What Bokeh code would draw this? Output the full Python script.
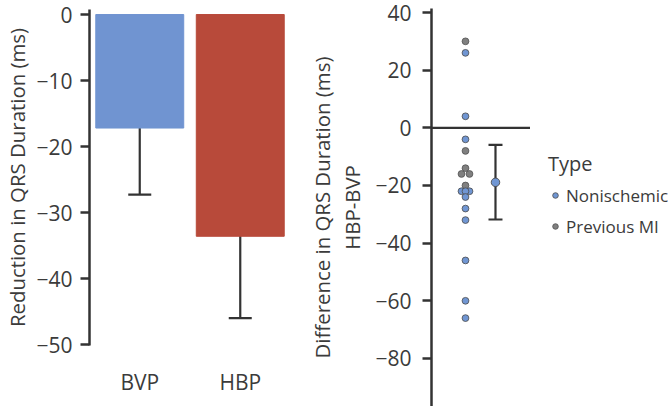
from bokeh.plotting import figure
from bokeh.models import (ColumnDataSource, Legend, LegendItem, FixedTicker,
                          Range1d, FactorRange, Span, LinearAxis)
from bokeh.layouts import row
from bokeh.embed import file_html
from bokeh.resources import INLINE

# ---------------- data ----------------
# Left panel: mean reduction in QRS duration by pacing mode
pacing = ["BVP", "HBP"]
reduction_mean = [-17.2, -33.6]
reduction_err = [10.1, 12.4]
bar_colors = ["#7094D1", "#B84A3A"]
left_ticks = [0, -10, -20, -30, -40, -50]

# Right panel: per-patient difference HBP-BVP
nonischemic = [26, 4, -4, -22, -22, -22, -24, -28, -32, -46, -60, -66]
previous_mi = [30, -8, -14, -16, -16, -20]
diff_mean = [-18.9]
diff_lower = [-31.8]
diff_upper = [-5.9]
right_ticks = [40, 20, 0, -20, -40, -60, -80]
groups = {"patients": 0, "mean": 1}
types = ["Nonischemic", "Previous MI"]

FONT = "Open Sans"
TXT = "#3b3b3b"
AX = "#333333"
BLUE = "#7096D3"
GRAY = "#808080"
H = 406


def swarm(values, step):
    counts = {v: values.count(v) for v in values}
    seen = {}
    out = []
    for v in values:
        k = seen.get(v, 0)
        seen[v] = k + 1
        n = counts[v]
        pattern = [0] if n == 1 else ([-1, 1] if n == 2 else [-1, 1, 0])
        out.append(groups["patients"] + pattern[k % len(pattern)] * step)
    return out


def style_yaxis(ax, standoff, ticks):
    ax.ticker = FixedTicker(ticks=ticks)
    ax.axis_line_color = AX
    ax.axis_line_width = 2.5
    ax.major_tick_line_color = AX
    ax.major_tick_line_width = 2.5
    ax.major_tick_out = 9
    ax.major_tick_in = 0
    ax.minor_tick_out = 0
    ax.minor_tick_in = 0
    ax.major_label_text_font = FONT
    ax.major_label_text_font_size = "21px"
    ax.major_label_text_color = TXT
    ax.major_label_standoff = standoff
    ax.axis_label_text_font = FONT
    ax.axis_label_text_font_size = "20.4px"
    ax.axis_label_text_font_style = "normal"
    ax.axis_label_text_color = TXT


# ---------------- left panel ----------------
p1 = figure(width=300, height=H, x_range=FactorRange(*pacing, range_padding=0),
            y_range=Range1d(-50.15, 0.76), output_backend="svg",
            toolbar_location=None, min_border_left=89, min_border_right=10,
            min_border_top=9, min_border_bottom=61, frame_align=False)
p1.outline_line_color = None
p1.grid.visible = False

src1 = ColumnDataSource(dict(
    x=pacing, mean=reduction_mean,
    lo=[m - e for m, e in zip(reduction_mean, reduction_err)],
    hi=[m + e for m, e in zip(reduction_mean, reduction_err)],
    color=bar_colors))
p1.segment(x0="x", y0="lo", x1="x", y1="hi", source=src1, line_color=AX, line_width=2.2)
p1.scatter(x="x", y="lo", source=src1, marker="dash", size=23, line_color=AX, line_width=2.2)
p1.vbar(x="x", top=0, bottom="mean", width=0.875, source=src1,
        fill_color="color", line_color="color")

style_yaxis(p1.yaxis[0], 8, left_ticks)
p1.yaxis.axis_label = "Reduction in QRS Duration (ms)"
p1.yaxis.axis_label_standoff = 2
p1.xaxis.axis_line_color = None
p1.xaxis.major_tick_line_color = None
p1.xaxis.minor_tick_line_color = None
p1.xaxis.major_label_text_font = FONT
p1.xaxis.major_label_text_font_size = "21px"
p1.xaxis.major_label_text_color = TXT
p1.xaxis.major_label_standoff = 16

# ---------------- right panel ----------------
p2 = figure(width=230, height=H, x_range=Range1d(-1.133, 2.167),
            y_range=Range1d(-96.66, 41.39), output_backend="svg",
            toolbar_location=None, min_border_left=131, min_border_right=0,
            min_border_top=8, min_border_bottom=0, frame_align=False)
p2.outline_line_color = None
p2.grid.visible = False
p2.xaxis.visible = False

p2.add_layout(Span(location=0, dimension="width", line_color=AX, line_width=2.2))

step = 4 / 30
src_n = ColumnDataSource(dict(x=swarm(nonischemic, step), y=nonischemic))
src_p = ColumnDataSource(dict(x=swarm(previous_mi, step), y=previous_mi))
p2.scatter("x", "y", source=src_p, size=6.8, fill_color=GRAY,
           line_color="#505050", line_width=0.8)
p2.scatter("x", "y", source=src_n, size=6.8, fill_color=BLUE,
           line_color="#4a4a4a", line_width=0.8)

srcm = ColumnDataSource(dict(x=[groups["mean"]], m=diff_mean, lo=diff_lower, hi=diff_upper))
p2.segment(x0="x", y0="lo", x1="x", y1="hi", source=srcm, line_color=AX, line_width=2.2)
p2.scatter("x", "lo", source=srcm, marker="dash", size=14, line_color=AX, line_width=2.2)
p2.scatter("x", "hi", source=srcm, marker="dash", size=14, line_color=AX, line_width=2.2)
p2.scatter("x", "m", source=srcm, size=8.5, fill_color=BLUE, line_color="#4a4a4a", line_width=0.9)

style_yaxis(p2.yaxis[0], 11, right_ticks)
p2.yaxis.axis_label = "HBP-BVP"
p2.yaxis.axis_label_standoff = 6

# outer line of the two-line axis title
outer = LinearAxis(axis_label="Difference in QRS Duration (ms)", ticker=FixedTicker(ticks=[]))
outer.axis_line_color = None
outer.major_tick_line_color = None
outer.minor_tick_line_color = None
outer.major_tick_out = 0
outer.major_label_text_font_size = "0px"
outer.major_label_standoff = 0
outer.axis_label_standoff = 0
outer.axis_label_text_font = FONT
outer.axis_label_text_font_size = "20.4px"
outer.axis_label_text_font_style = "normal"
outer.axis_label_text_color = TXT
p2.add_layout(outer, "left")

# ---------------- legend panel ----------------
p3 = figure(width=138, height=H, x_range=Range1d(0, 1), y_range=Range1d(0, 1),
            output_backend="svg", toolbar_location=None,
            min_border_left=0, min_border_right=0, min_border_top=0, min_border_bottom=0,
            frame_align=False)
p3.outline_line_color = None
p3.grid.visible = False
p3.axis.visible = False
hidden = dict(x=[float("nan")], y=[float("nan")])
k_n = p3.scatter("x", "y", source=ColumnDataSource(hidden), size=7, fill_color=BLUE,
                 line_color="#4a4a4a", line_width=0.8)
k_p = p3.scatter("x", "y", source=ColumnDataSource(hidden), size=7, fill_color=GRAY,
                 line_color="#505050", line_width=0.8)

legend = Legend(items=[LegendItem(label=types[0], renderers=[k_n], index=0),
                       LegendItem(label=types[1], renderers=[k_p], index=0)],
                title="Type", location=(18, 168))
legend.title_text_font = FONT
legend.title_text_font_size = "20px"
legend.title_text_font_style = "normal"
legend.title_text_color = TXT
legend.label_text_font = FONT
legend.label_text_font_size = "17px"
legend.label_text_color = TXT
legend.border_line_color = None
legend.background_fill_alpha = 0
legend.glyph_width = 14
legend.glyph_height = 24
legend.label_standoff = 4
legend.spacing = 7
legend.padding = 0
legend.margin = 0
legend.title_standoff = 6
p3.add_layout(legend)

layout = row(p1, p2, p3)
open("out.html", "w").write(file_html(layout, INLINE))
